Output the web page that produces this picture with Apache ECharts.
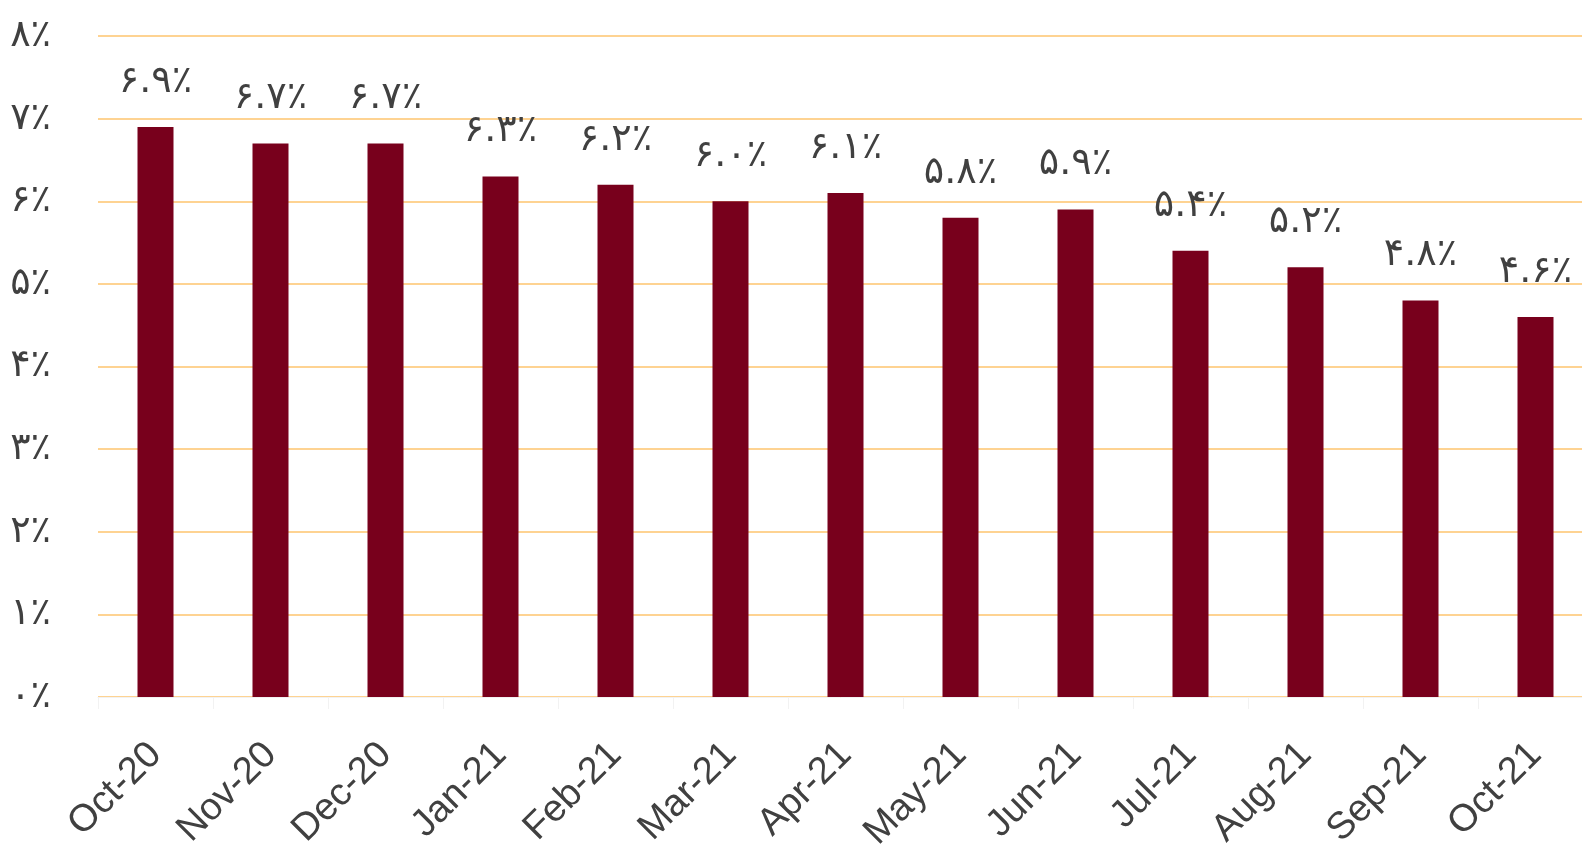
<!DOCTYPE html>
<html>
<head>
<meta charset="utf-8">
<script src="https://cdn.jsdelivr.net/npm/echarts@6/dist/echarts.min.js"></script>
<style>html,body{margin:0;padding:0;background:#fff}#c{width:1582px;height:844px}</style>
</head>
<body>
<div id="c"></div>
<script>
const categories = ['Oct-20','Nov-20','Dec-20','Jan-21','Feb-21','Mar-21','Apr-21','May-21','Jun-21','Jul-21','Aug-21','Sep-21','Oct-21'];
const rates = [6.9, 6.7, 6.7, 6.3, 6.2, 6.0, 6.1, 5.8, 5.9, 5.4, 5.2, 4.8, 4.6];
const yTicks = [0, 1, 2, 3, 4, 5, 6, 7, 8];

const faDigits = '۰۱۲۳۴۵۶۷۸۹';
function toFa(s) { return String(s).replace(/[0-9]/g, d => faDigits[+d]); }

const chart = echarts.init(document.getElementById('c'), null, {renderer: 'canvas'});
chart.setOption({
  animation: false,
  backgroundColor: '#ffffff',
  grid: {left: 98, width: 1495, top: 36, bottom: 147, containLabel: false, outerBoundsMode: 'none'},
  xAxis: {
    type: 'category',
    data: categories,
    axisLine: {show: true, lineStyle: {color: '#f2f2f2', width: 1}},
    axisTick: {show: true, length: 12, lineStyle: {color: '#f2f2f2'}},
    axisLabel: {
      rotate: 45, margin: 52, color: '#404040',
      fontFamily: 'Liberation Sans, Arial', fontSize: 38, interval: 0
    }
  },
  yAxis: {
    type: 'value',
    min: yTicks[0], max: yTicks[yTicks.length - 1], interval: 1,
    axisLine: {show: false},
    axisTick: {show: false},
    splitLine: {show: true, lineStyle: {color: '#fed392', width: 2}},
    axisLabel: {
      margin: 47, color: '#404040', fontFamily: 'DejaVu Sans', fontSize: 38,
      formatter: v => toFa(v) + '٪'
    }
  },
  series: [{
    type: 'bar',
    data: rates,
    barWidth: 36,
    itemStyle: {color: '#78001c'},
    label: {
      show: true, position: 'top', distance: 26,
      color: '#404040', fontFamily: 'DejaVu Sans', fontSize: 38,
      formatter: p => toFa(p.value.toFixed(1)) + '٪'
    }
  }]
});
</script>
</body>
</html>
